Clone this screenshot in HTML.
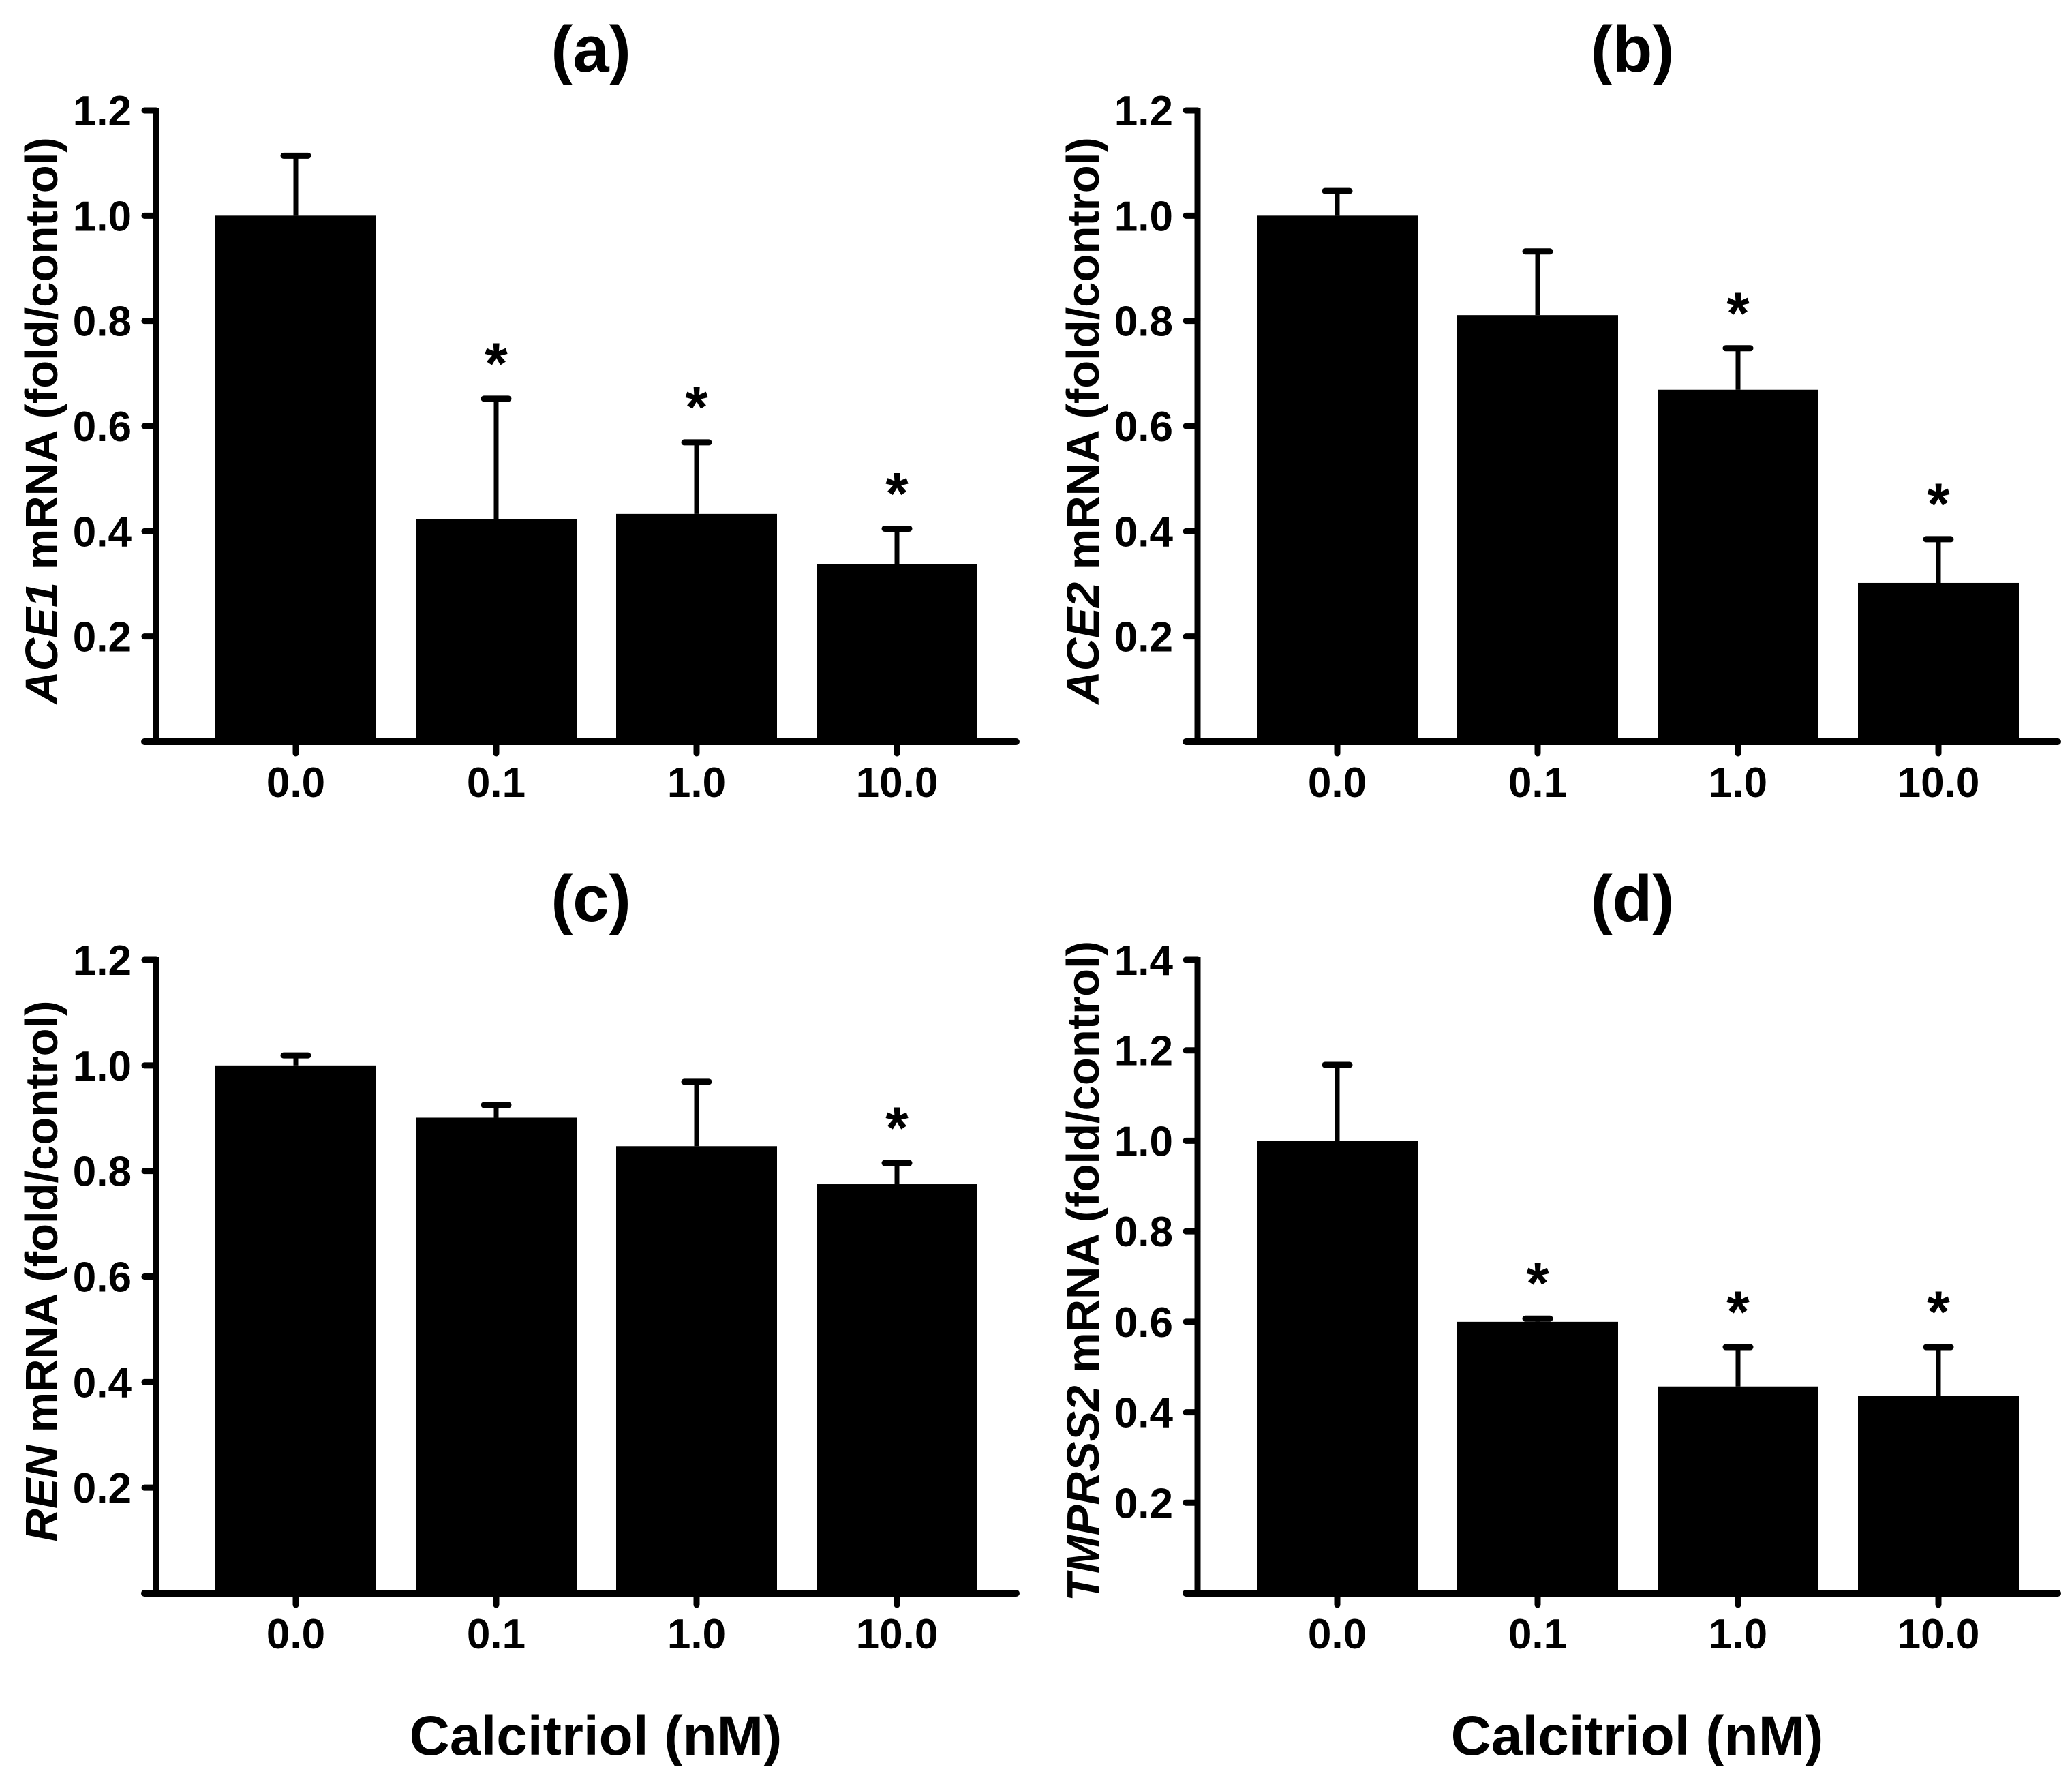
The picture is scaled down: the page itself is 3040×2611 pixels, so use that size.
<!DOCTYPE html>
<html><head><meta charset="utf-8">
<style>
html,body{margin:0;padding:0;background:#fff;}
svg{display:block;font-family:"Liberation Sans",Arial,sans-serif;font-weight:bold;}
</style></head>
<body>
<svg id="fig" width="3040" height="2611" viewBox="0 0 3040 2611" xmlns="http://www.w3.org/2000/svg"></svg>
<script>
const categories = ["0.0", "0.1", "1.0", "10.0"];
const aMeans = [1.0, 0.423, 0.433, 0.337];
const aErrs = [1.114, 0.652, 0.569, 0.405];
const aStars = [false, true, true, true];
const bMeans = [1.0, 0.811, 0.669, 0.302];
const bErrs = [1.047, 0.932, 0.748, 0.385];
const bStars = [false, false, true, true];
const cMeans = [1.0, 0.901, 0.847, 0.775];
const cErrs = [1.019, 0.925, 0.969, 0.815];
const cStars = [false, false, false, true];
const dMeans = [1.0, 0.6, 0.457, 0.436];
const dErrs = [1.168, 0.607, 0.544, 0.544];
const dStars = [false, true, true, true];
const ticks12 = ["0.2", "0.4", "0.6", "0.8", "1.0", "1.2"];
const ticks14 = ["0.2", "0.4", "0.6", "0.8", "1.0", "1.2", "1.4"];

const NS = "http://www.w3.org/2000/svg";
const svg = document.getElementById("fig");
function mk(tag, attrs, parent) {
  const e = document.createElementNS(NS, tag);
  for (const k in attrs) e.setAttribute(k, attrs[k]);
  (parent || svg).appendChild(e);
  return e;
}

const panels = [
  {key:"a", label:"(a)", gene:"ACE1", ax:229, top:162, y0:1088, max:1.2, ticks:ticks12, means:aMeans, errs:aErrs, stars:aStars, xlabel:false},
  {key:"b", label:"(b)", gene:"ACE2", ax:1757, top:162, y0:1088, max:1.2, ticks:ticks12, means:bMeans, errs:bErrs, stars:bStars, xlabel:false},
  {key:"c", label:"(c)", gene:"REN", ax:229, top:1408, y0:2337, max:1.2, ticks:ticks12, means:cMeans, errs:cErrs, stars:cStars, xlabel:true},
  {key:"d", label:"(d)", gene:"TMPRSS2", ax:1757, top:1408, y0:2337, max:1.4, ticks:ticks14, means:dMeans, errs:dErrs, stars:dStars, xlabel:true}
];

panels.forEach(p => {
  const g = mk("g", {});
  
  
  const yScale = v => p.y0 - v / p.max * (p.y0 - p.top);
  const xScale = i => p.ax + 205 + i * 294;
  const half = 118;

  const t = mk("text", {x: p.ax + 638, y: p.top - 57, "text-anchor": "middle", "font-size": 96}, g);
  t.textContent = p.label;
  
  

  const yt = mk("text", {x: 0, y: 0, "text-anchor": "middle", "font-size": 67,
    transform: "translate(" + (p.ax - 145) + "," + ((p.top + p.y0) / 2 - 8) + ") rotate(-90)"}, g);
  const it = mk("tspan", {"font-style": "italic"}, yt);
  it.textContent = p.gene;
  const rest = mk("tspan", {}, yt);
  rest.textContent = " mRNA (fold/control)";
  
  

  p.means.forEach((m, i) => {
    const cx = xScale(i);
    const b = mk("rect", {x: cx - half, y: yScale(m), width: 2 * half, height: p.y0 - yScale(m), fill: "#000"}, g);
    
    
    const ey = yScale(p.errs[i]);
    const el = mk("line", {x1: cx, x2: cx, y1: yScale(m), y2: ey, stroke: "#000", "stroke-width": 7}, g);
    
    
    const cap = mk("line", {x1: cx - 18, x2: cx + 18, y1: ey, y2: ey, stroke: "#000", "stroke-width": 9, "stroke-linecap": "round"}, g);
    
    
    if (p.stars[i]) {
      const s = mk("text", {x: cx, y: ey - 22, "text-anchor": "middle", "font-size": 86}, g);
      s.textContent = "*";
      
      
    }
    const tk = mk("line", {x1: cx, x2: cx, y1: p.y0, y2: p.y0 + 17, stroke: "#000", "stroke-width": 9, "stroke-linecap": "round"}, g);
    
    
    const tl = mk("text", {x: cx, y: p.y0 + 81, "text-anchor": "middle", "font-size": 62}, g);
    tl.textContent = categories[i];
    
    
  });

  p.ticks.forEach(lbl => {
    const v = parseFloat(lbl);
    const y = yScale(v);
    const tk = mk("line", {x1: p.ax - 17, x2: p.ax, y1: y, y2: y, stroke: "#000", "stroke-width": 9, "stroke-linecap": "round"}, g);
    
    
    const tl = mk("text", {x: p.ax - 36, y: y + 22, "text-anchor": "end", "font-size": 62}, g);
    tl.textContent = lbl;
    
    
  });

  const yax = mk("line", {x1: p.ax, x2: p.ax, y1: p.top - 4, y2: p.y0, stroke: "#000", "stroke-width": 9}, g);
  
  
  const xax = mk("line", {x1: p.ax - 17, x2: p.ax + 1262, y1: p.y0, y2: p.y0, stroke: "#000", "stroke-width": 10, "stroke-linecap": "round"}, g);
  
  

  if (p.xlabel) {
    const xl = mk("text", {x: p.ax + 645, y: 2574, "text-anchor": "middle", "font-size": 82}, g);
    xl.textContent = "Calcitriol (nM)";
    
    
  }
});
</script>
</body></html>
